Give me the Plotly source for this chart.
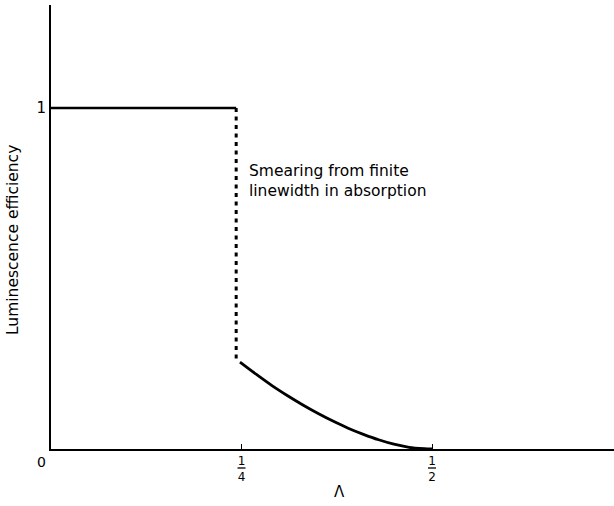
import plotly.graph_objects as go

# ---- data ----
plateau_x = [0.0, 0.243]
plateau_y = [1.0, 1.0]

smear_x = [0.243, 0.243]
smear_y = [1.0, 0.262]

curve_x = [0.248, 0.27, 0.29, 0.31, 0.33, 0.35, 0.37, 0.39, 0.41, 0.43, 0.45, 0.47, 0.49, 0.50]
curve_y = [0.255, 0.218, 0.186, 0.157, 0.130, 0.105, 0.082, 0.061, 0.043, 0.027, 0.014, 0.005, 0.001, 0.0]

x_tick_vals = [0.25, 0.5]
x_tick_text = ["1<br>4", "1<br>2"]
y_tick_vals = [1]
y_tick_text = ["1"]
origin_label = "0"

x_title = "Λ"
y_title = "Luminescence efficiency"
note_text = "Smearing from finite<br>linewidth in absorption"

FONT = "DejaVu Sans"
W, H = 614, 506
ml, mr, mt, mb = 51, 0, 5, 57
px_per_x = 762.0
px_per_y = 341.0
plot_w = W - ml - mr
plot_h = H - mt - mb

fig = go.Figure()
fig.add_trace(go.Scatter(x=plateau_x, y=plateau_y, mode="lines", line=dict(color="black", width=2.6),
                         hoverinfo="skip", showlegend=False, cliponaxis=False))
fig.add_trace(go.Scatter(x=smear_x, y=smear_y, mode="lines",
                         line=dict(color="black", width=3, dash="4px,4.5px"),
                         hoverinfo="skip", showlegend=False, cliponaxis=False))
fig.add_trace(go.Scatter(x=curve_x, y=curve_y, mode="lines",
                         line=dict(color="black", width=2.8, shape="spline", smoothing=0.8),
                         hoverinfo="skip", showlegend=False, cliponaxis=False))

annotations = [
    dict(text=note_text, x=0.257, y=0.785, xref="x", yref="y", xanchor="left", yanchor="middle",
         align="left", showarrow=False, font=dict(family=FONT, size=15.5, color="black")),
    dict(text=origin_label, x=0, y=-13 / plot_h, xref="x", yref="paper", xshift=-10,
         xanchor="center", yanchor="middle", showarrow=False,
         font=dict(family=FONT, size=14, color="black")),
    dict(text=x_title, x=(339 - ml) / px_per_x, y=-(492 - (H - mb)) / plot_h, xref="x", yref="paper",
         xanchor="center", yanchor="middle", showarrow=False,
         font=dict(family=FONT, size=15, color="black")),
    dict(text=y_title, x=(13 - ml) / plot_w, y=((H - mb) - 240) / plot_h, xref="paper", yref="paper",
         xanchor="center", yanchor="middle", textangle=-90, showarrow=False,
         font=dict(family=FONT, size=15.5, color="black")),
]

shapes = []
bar_y = -(468 - (H - mb)) / plot_h
for v in x_tick_vals:
    cx = v * px_per_x
    shapes.append(dict(type="line", xref="paper", yref="paper",
                       x0=(cx - 4) / plot_w, x1=(cx + 4) / plot_w,
                       y0=bar_y, y1=bar_y,
                       line=dict(color="black", width=1.3)))

fig.update_layout(
    width=W, height=H,
    margin=dict(l=ml, r=mr, t=mt, b=mb),
    paper_bgcolor="white", plot_bgcolor="white",
    font=dict(family=FONT, color="black"),
    annotations=annotations,
    shapes=shapes,
    showlegend=False,
)
fig.update_xaxes(range=[0, plot_w / px_per_x], showgrid=False, zeroline=False,
                 showline=True, linecolor="black", linewidth=1.8,
                 tickvals=x_tick_vals, ticktext=x_tick_text, ticks="inside", ticklen=5,
                 tickwidth=1.4, tickcolor="black", tickfont=dict(family=FONT, size=12, color="black"),
                 fixedrange=True)
fig.update_yaxes(range=[0, plot_h / px_per_y], showgrid=False, zeroline=False,
                 showline=True, linecolor="black", linewidth=1.8,
                 tickvals=y_tick_vals, ticktext=y_tick_text, ticks="",
                 tickfont=dict(family=FONT, size=15, color="black"),
                 fixedrange=True)

fig.write_html("out.html", config={"displayModeBar": False},
               post_script="document.body.style.margin='0';document.body.style.overflow='hidden';")
